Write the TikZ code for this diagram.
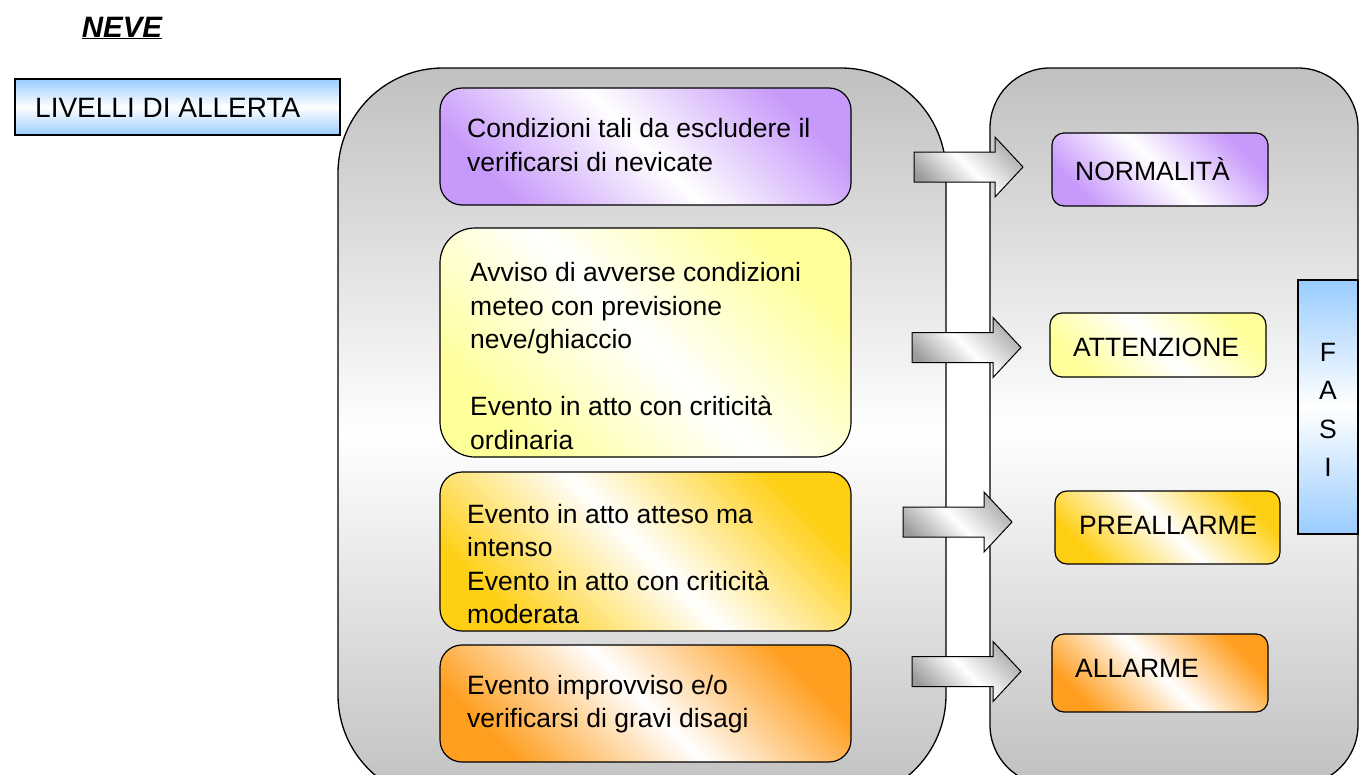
\documentclass[tikz,border=0pt]{standalone}
\usepackage{fontspec}
\setmainfont{Liberation Sans}
\definecolor{pur}{HTML}{C799FA}
\definecolor{ylw}{HTML}{FFFF99}
\definecolor{gld}{HTML}{FFCF14}
\definecolor{org}{HTML}{FF9E1F}
\definecolor{blu}{HTML}{99CCFF}
\definecolor{gry}{HTML}{C0C0C0}
\definecolor{agry}{HTML}{9A9A9A}
\tikzset{
  panel/.style={draw=black, line width=1.3pt, top color=gry, bottom color=gry, middle color=white},
  lbox/.style={draw=black, line width=1.2pt, rounded corners=22pt, inner sep=0pt},
  rbox/.style={draw=black, line width=1.2pt, rounded corners=12pt, inner sep=0pt},
  purfill/.style={left color=pur, right color=pur, middle color=white, shading angle=135},
  ylwfill/.style={left color=ylw, right color=ylw, middle color=white, shading angle=135},
  gldfill/.style={left color=gld, right color=gld, middle color=white, shading angle=135},
  orgfill/.style={left color=org, right color=org, middle color=white, shading angle=135},
  blufill/.style={top color=blu, bottom color=blu, middle color=white},
  arrowfill/.style={draw=black, line width=1pt, left color=agry, right color=agry!80, middle color=white, shading angle=135},
  ltext/.style={font=\fontsize{26.5}{33.5}\selectfont, align=left, inner sep=0pt, anchor=west},
  rtext/.style={font=\fontsize{26.5}{30}\selectfont, inner sep=0pt, anchor=west}
}
\newcommand\blockarr[2]{%
  \path[arrowfill] (#1,#2-15) -- (#1+81,#2-15) -- (#1+81,#2-30) -- (#1+109,#2)
    -- (#1+81,#2+30) -- (#1+81,#2+15) -- (#1,#2+15) -- cycle;}
\begin{document}
\begin{tikzpicture}[x=1pt,y=-1pt]
\clip (0,0) rectangle (1365,774);
\fill[white] (0,0) rectangle (1365,774);
% title
\node[font=\bfseries\itshape\fontsize{29.5}{31}\selectfont, inner sep=0pt] (neve) at (122,28) {\underline{NEVE}};
% livelli
\node[draw=black, line width=1.3pt, blufill, minimum width=325pt, minimum height=56pt, inner sep=0pt] (liv) at (177.5,107) {};
\node[font=\fontsize{28}{30}\selectfont, inner sep=0pt, anchor=west] (livt) at (35,108) {LIVELLI DI ALLERTA};
% panels
\path[panel, rounded corners=105pt] (338,68) rectangle (946,800);
\path[panel, rounded corners=60pt] (990,68) rectangle (1358,785);
% arrows
\blockarr{914}{167}
\blockarr{912}{347.5}
\blockarr{903}{522}
\blockarr{912}{671.5}
% left boxes
\node[lbox, purfill, minimum width=411pt, minimum height=117pt] (c1) at (645.5,146.5) {};
\node[lbox, ylwfill, rounded corners=35pt, minimum width=411pt, minimum height=229pt] (c2) at (645.5,342.5) {};
\node[lbox, gldfill, minimum width=411pt, minimum height=159pt] (c3) at (645.5,551.5) {};
\node[lbox, orgfill, minimum width=411pt, minimum height=117pt] (c4) at (645.5,703.5) {};
\node[ltext] (t1) at (467,145) {Condizioni tali da escludere il\\verificarsi di nevicate};
\node[ltext] (t2) at (470,356) {Avviso di avverse condizioni\\meteo con previsione\\neve/ghiaccio\\[33.5pt]Evento in atto con criticità\\ordinaria};
\node[ltext] (t3) at (467,564) {Evento in atto atteso ma\\intenso\\Evento in atto con criticità\\moderata};
\node[ltext] (t4) at (467,704) {Evento improvviso e/o\\verificarsi di gravi disagi};
% right boxes
\node[rbox, purfill, minimum width=216pt, minimum height=73pt] (n1) at (1160,169.5) {};
\node[rbox, ylwfill, minimum width=216pt, minimum height=64pt] (n2) at (1158,345) {};
\node[rbox, gldfill, minimum width=225pt, minimum height=73pt] (n3) at (1167.5,527.5) {};
\node[rbox, orgfill, minimum width=216pt, minimum height=78pt] (n4) at (1160,673) {};
\node[rtext] (r1) at (1075,169) {NORMALITÀ};
\node[rtext] (r2) at (1073,347) {ATTENZIONE};
\node[rtext] (r3) at (1079,525) {PREALLARME};
\node[rtext] (r4) at (1075,668) {ALLARME};
% fasi
\node[draw=black, line width=1.2pt, blufill, minimum width=60pt, minimum height=254pt, inner sep=0pt] (fasi) at (1328,407) {};
\node[font=\fontsize{26.5}{38.3}\selectfont, align=center, inner sep=0pt] (fasit) at (1328,410) {F\\A\\S\\I};
\end{tikzpicture}
\end{document}
